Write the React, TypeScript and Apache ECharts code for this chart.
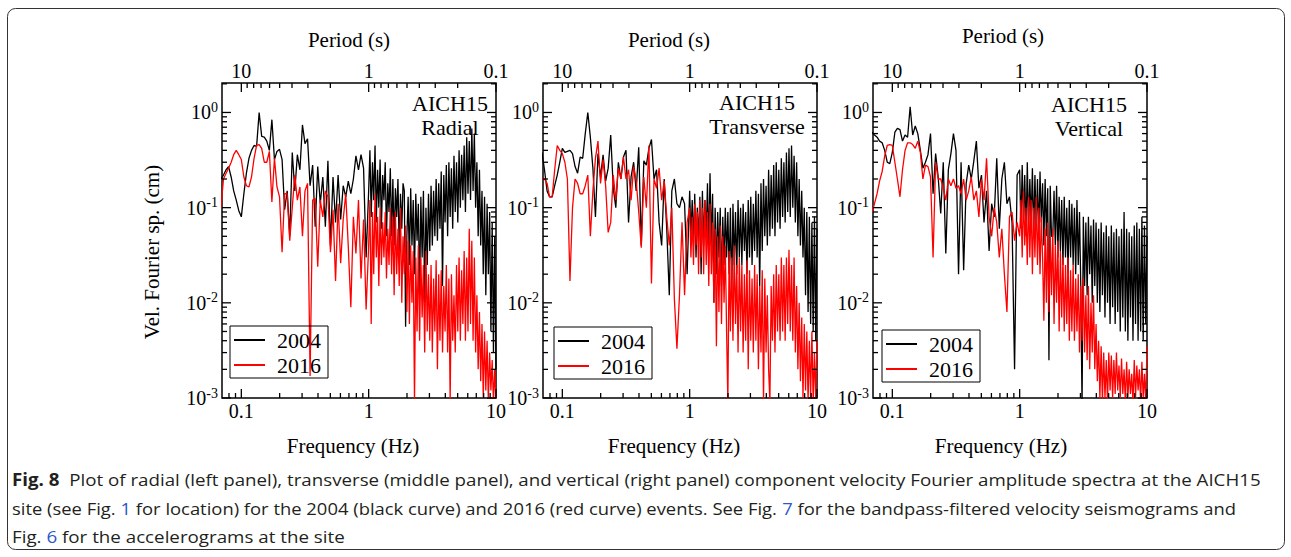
import React, { useEffect, useRef } from 'react';
import * as echarts from 'echarts';

// Shared frequency grid (Hz)
const FREQ = [
  0.0692, 0.0724, 0.0759, 0.0794, 0.0832, 0.0871, 0.0912, 0.0955, 0.1, 0.1047,
  0.1096, 0.1148, 0.1202, 0.1259, 0.1318, 0.138, 0.1445, 0.1514, 0.1585, 0.166,
  0.1738, 0.182, 0.1905, 0.1995, 0.2089, 0.2188, 0.2291, 0.2399, 0.2512, 0.263,
  0.2754, 0.2884, 0.302, 0.3162, 0.3311, 0.3467, 0.3631, 0.3802, 0.3981, 0.4169,
  0.4365, 0.4571, 0.4786, 0.5012, 0.5248, 0.5495, 0.5754, 0.6026, 0.631, 0.6607,
  0.6918, 0.7244, 0.7586, 0.7943, 0.8318, 0.871, 0.912, 0.955,
  1.0, 1.023, 1.047, 1.072, 1.096, 1.122, 1.148, 1.175, 1.202, 1.23,
  1.259, 1.288, 1.318, 1.349, 1.38, 1.413, 1.445, 1.479, 1.514, 1.549,
  1.585, 1.622, 1.66, 1.698, 1.738, 1.778, 1.82, 1.862, 1.905, 1.95,
  1.995, 2.042, 2.089, 2.138, 2.188, 2.239, 2.291, 2.344, 2.399, 2.455,
  2.512, 2.57, 2.63, 2.692, 2.754, 2.818, 2.884, 2.951, 3.02, 3.09,
  3.162, 3.236, 3.311, 3.388, 3.467, 3.548, 3.631, 3.715, 3.802, 3.89,
  3.981, 4.074, 4.169, 4.266, 4.365, 4.467, 4.571, 4.677, 4.786, 4.898,
  5.012, 5.129, 5.248, 5.37, 5.495, 5.623, 5.754, 5.888, 6.026, 6.166,
  6.31, 6.457, 6.607, 6.761, 6.918, 7.079, 7.244, 7.413, 7.586, 7.762,
  7.943, 8.128, 8.318, 8.511, 8.71, 8.913, 9.12, 9.333, 9.55, 9.772,
  10.0,
];

// Radial component (cm)
const RADIAL_2004 = [
  0.2, 0.22, 0.25, 0.27, 0.21, 0.15, 0.12, 0.093, 0.08, 0.14,
  0.23, 0.33, 0.4, 0.45, 0.44, 1.0, 0.56, 0.55, 0.5, 0.4,
  0.84, 0.32, 0.39, 0.41, 0.32, 0.095, 0.15, 0.05, 0.38, 0.15,
  0.36, 0.25, 0.74, 0.47, 0.53, 0.17, 0.28, 0.063, 0.27, 0.11,
  0.21, 0.063, 0.31, 0.04, 0.21, 0.07, 0.22, 0.075, 0.17, 0.13,
  0.19, 0.14, 0.2, 0.35, 0.25, 0.36, 0.26, 0.03,
  0.15, 0.4, 0.08, 0.3, 0.12, 0.45, 0.07, 0.25, 0.1, 0.32,
  0.06, 0.22, 0.12, 0.3, 0.05, 0.18, 0.09, 0.26, 0.05, 0.2,
  0.04, 0.16, 0.08, 0.2, 0.035, 0.14, 0.06, 0.18, 0.15, 0.0056,
  0.05, 0.13, 0.025, 0.16, 0.04, 0.12, 0.02, 0.14, 0.045, 0.11,
  0.012, 0.13, 0.03, 0.15, 0.01, 0.1, 0.025, 0.14, 0.035, 0.17,
  0.04, 0.15, 0.05, 0.2, 0.045, 0.18, 0.06, 0.24, 0.015, 0.22,
  0.07, 0.28, 0.05, 0.3, 0.08, 0.26, 0.06, 0.35, 0.09, 0.3,
  0.07, 0.4, 0.1, 0.36, 0.12, 0.45, 0.09, 0.55, 0.14, 0.5,
  0.12, 0.68, 0.15, 0.6, 0.1, 0.3, 0.05, 0.25, 0.04, 0.15,
  0.02, 0.13, 0.012, 0.11, 0.02, 0.09, 0.005, 0.07, 0.003, 0.05,
  0.002,
];
const RADIAL_2016 = [
  0.1, 0.2, 0.23, 0.26, 0.3, 0.36, 0.4, 0.36, 0.32, 0.21,
  0.17, 0.165, 0.21, 0.33, 0.45, 0.46, 0.42, 0.3, 0.3, 0.39,
  0.115, 0.33, 0.165, 0.13, 0.034, 0.14, 0.14, 0.045, 0.1, 0.22,
  0.12, 0.165, 0.05, 0.15, 0.18, 0.0017, 0.12, 0.125, 0.024, 0.12,
  0.08, 0.15, 0.13, 0.034, 0.095, 0.017, 0.11, 0.026, 0.075, 0.14,
  0.039, 0.009, 0.08, 0.033, 0.12, 0.018, 0.075, 0.0085,
  0.04, 0.12, 0.006, 0.09, 0.02, 0.14, 0.03, 0.08, 0.015, 0.1,
  0.025, 0.07, 0.03, 0.09, 0.018, 0.06, 0.025, 0.1, 0.02, 0.08,
  0.012, 0.09, 0.02, 0.06, 0.015, 0.1, 0.01, 0.05, 0.02, 0.065,
  0.008, 0.045, 0.006, 0.04, 0.01, 0.035, 0.0009, 0.03, 0.005, 0.04,
  0.004, 0.03, 0.007, 0.025, 0.003, 0.035, 0.005, 0.02, 0.004, 0.025,
  0.003, 0.018, 0.005, 0.028, 0.002, 0.02, 0.004, 0.022, 0.003, 0.015,
  0.005, 0.025, 0.003, 0.018, 0.0009, 0.02, 0.004, 0.012, 0.003, 0.025,
  0.005, 0.03, 0.004, 0.022, 0.006, 0.035, 0.004, 0.03, 0.005, 0.06,
  0.006, 0.045, 0.004, 0.03, 0.003, 0.012, 0.002, 0.008, 0.0015, 0.006,
  0.001, 0.005, 0.0012, 0.004, 0.0009, 0.003, 0.0012, 0.0025, 0.0009, 0.002,
  0.0009,
];

// Transverse component (cm)
const TRANS_2004 = [
  0.38, 0.25, 0.15, 0.13, 0.13, 0.17, 0.22, 0.3, 0.42, 0.38,
  0.39, 0.4, 0.37, 0.27, 0.23, 0.34, 0.33, 0.6, 1.0, 0.55,
  0.26, 0.08, 0.37, 0.21, 0.36, 0.19, 0.26, 0.58, 0.16, 0.1,
  0.3, 0.2, 0.34, 0.4, 0.07, 0.21, 0.3, 0.15, 0.43, 0.04,
  0.31, 0.28, 0.42, 0.52, 0.2, 0.25, 0.07, 0.04, 0.2, 0.06,
  0.012, 0.15, 0.2, 0.11, 0.1, 0.13, 0.11, 0.02,
  0.15, 0.05, 0.12, 0.04, 0.14, 0.03, 0.1, 0.045, 0.13, 0.02,
  0.15, 0.04, 0.12, 0.05, 0.18, 0.035, 0.23, 0.04, 0.14, 0.01,
  0.1, 0.02, 0.09, 0.03, 0.1, 0.015, 0.08, 0.025, 0.1, 0.03,
  0.09, 0.02, 0.1, 0.012, 0.11, 0.025, 0.09, 0.02, 0.12, 0.03,
  0.1, 0.025, 0.11, 0.035, 0.09, 0.02, 0.12, 0.03, 0.13, 0.025,
  0.11, 0.035, 0.15, 0.03, 0.14, 0.015, 0.18, 0.035, 0.2, 0.05,
  0.17, 0.04, 0.25, 0.05, 0.22, 0.06, 0.28, 0.05, 0.3, 0.07,
  0.25, 0.06, 0.33, 0.08, 0.3, 0.07, 0.38, 0.09, 0.42, 0.08,
  0.45, 0.1, 0.35, 0.07, 0.3, 0.05, 0.2, 0.04, 0.15, 0.03,
  0.1, 0.012, 0.09, 0.008, 0.08, 0.006, 0.07, 0.005, 0.08, 0.004,
  0.06,
];
const TRANS_2016 = [
  0.2, 0.2, 0.18, 0.13, 0.13, 0.25, 0.45, 0.4, 0.37, 0.3,
  0.2, 0.017, 0.1, 0.2, 0.18, 0.14, 0.14, 0.17, 0.22, 0.05,
  0.15, 0.33, 0.5, 0.18, 0.32, 0.17, 0.055, 0.07, 0.22, 0.12,
  0.26, 0.2, 0.34, 0.2, 0.25, 0.12, 0.27, 0.19, 0.09, 0.038,
  0.21, 0.1, 0.45, 0.016, 0.2, 0.16, 0.26, 0.12, 0.19, 0.08,
  0.04, 0.1, 0.011, 0.0033, 0.012, 0.07, 0.012, 0.07,
  0.1, 0.03, 0.08, 0.025, 0.11, 0.04, 0.09, 0.02, 0.12, 0.03,
  0.1, 0.02, 0.12, 0.025, 0.09, 0.015, 0.11, 0.02, 0.07, 0.01,
  0.06, 0.0035, 0.05, 0.008, 0.065, 0.006, 0.05, 0.01, 0.04, 0.005,
  0.0009, 0.035, 0.005, 0.03, 0.004, 0.04, 0.006, 0.025, 0.003, 0.03,
  0.005, 0.025, 0.003, 0.02, 0.004, 0.028, 0.002, 0.022, 0.004, 0.018,
  0.003, 0.025, 0.004, 0.02, 0.002, 0.015, 0.003, 0.022, 0.0009, 0.018,
  0.003, 0.012, 0.002, 0.0009, 0.015, 0.004, 0.02, 0.003, 0.025, 0.005,
  0.02, 0.004, 0.03, 0.005, 0.025, 0.004, 0.03, 0.006, 0.036, 0.005,
  0.025, 0.004, 0.03, 0.003, 0.015, 0.002, 0.01, 0.0015, 0.007, 0.001,
  0.006, 0.0012, 0.005, 0.0009, 0.004, 0.001, 0.005, 0.0009, 0.003, 0.001,
  0.004,
];

// Vertical component (cm)
const VERT_2004 = [
  0.62, 0.58, 0.55, 0.5, 0.48, 0.4, 0.3, 0.29, 0.38, 0.62,
  0.68, 0.66, 0.5, 0.58, 0.55, 1.15, 0.58, 0.72, 0.6, 0.4,
  0.26, 0.3, 0.36, 0.6, 0.14, 0.37, 0.21, 0.087, 0.3, 0.033,
  0.25, 0.37, 0.6, 0.4, 0.02, 0.3, 0.022, 0.18, 0.28, 0.2,
  0.31, 0.5, 0.16, 0.22, 0.07, 0.15, 0.035, 0.11, 0.08, 0.33,
  0.06, 0.2, 0.3, 0.11, 0.13, 0.07, 0.002, 0.22,
  0.25, 0.06, 0.28, 0.07, 0.22, 0.05, 0.3, 0.06, 0.2, 0.07,
  0.26, 0.05, 0.22, 0.06, 0.2, 0.05, 0.24, 0.07, 0.18, 0.04,
  0.2, 0.05, 0.16, 0.0025, 0.17, 0.05, 0.05, 0.15, 0.04, 0.17,
  0.03, 0.13, 0.035, 0.12, 0.025, 0.13, 0.03, 0.1, 0.02, 0.12,
  0.03, 0.11, 0.025, 0.1, 0.02, 0.12, 0.025, 0.09, 0.015, 0.0008,
  0.08, 0.015, 0.07, 0.012, 0.08, 0.02, 0.065, 0.01, 0.075, 0.015,
  0.07, 0.01, 0.06, 0.008, 0.07, 0.012, 0.055, 0.007, 0.065, 0.01,
  0.05, 0.006, 0.065, 0.009, 0.055, 0.006, 0.06, 0.008, 0.05, 0.005,
  0.06, 0.007, 0.09, 0.005, 0.06, 0.004, 0.055, 0.007, 0.05, 0.004,
  0.065, 0.006, 0.07, 0.004, 0.06, 0.005, 0.08, 0.004, 0.065, 0.006,
  0.05,
];
const VERT_2016 = [
  0.09, 0.11, 0.14, 0.19, 0.24, 0.35, 0.45, 0.46, 0.45, 0.3,
  0.2, 0.13, 0.25, 0.4, 0.48, 0.48, 0.46, 0.42, 0.5, 0.38,
  0.2, 0.28, 0.27, 0.21, 0.03, 0.3, 0.2, 0.2, 0.16, 0.12,
  0.2, 0.17, 0.2, 0.16, 0.17, 0.14, 0.2, 0.12, 0.15, 0.21,
  0.12, 0.15, 0.08, 0.2, 0.12, 0.33, 0.08, 0.05, 0.1, 0.07,
  0.03, 0.06, 0.02, 0.008, 0.08, 0.09, 0.045, 0.07,
  0.05, 0.12, 0.03, 0.15, 0.04, 0.1, 0.025, 0.13, 0.03, 0.12,
  0.02, 0.1, 0.03, 0.13, 0.025, 0.1, 0.02, 0.08, 0.03, 0.0065,
  0.06, 0.01, 0.07, 0.008, 0.05, 0.012, 0.06, 0.006, 0.04, 0.01,
  0.045, 0.005, 0.035, 0.007, 0.03, 0.005, 0.025, 0.006, 0.03, 0.004,
  0.022, 0.005, 0.025, 0.004, 0.018, 0.005, 0.02, 0.003, 0.015, 0.004,
  0.018, 0.003, 0.012, 0.0025, 0.015, 0.002, 0.01, 0.003, 0.012, 0.002,
  0.006, 0.0015, 0.004, 0.001, 0.0035, 0.0009, 0.003, 0.001, 0.0025, 0.0009,
  0.003, 0.0012, 0.0028, 0.001, 0.0025, 0.0011, 0.003, 0.0012, 0.0022, 0.001,
  0.0026, 0.0011, 0.002, 0.0009, 0.0024, 0.001, 0.002, 0.0011, 0.0018, 0.0009,
  0.0025, 0.001, 0.0022, 0.0012, 0.002, 0.0009, 0.0024, 0.001, 0.0018, 0.0009,
  0.0035,
];

// Axis tick values
const Y_MAJOR = [0.001, 0.01, 0.1, 1];
const Y_MINOR = [
  0.002, 0.003, 0.004, 0.005, 0.006, 0.007, 0.008, 0.009,
  0.02, 0.03, 0.04, 0.05, 0.06, 0.07, 0.08, 0.09,
  0.2, 0.3, 0.4, 0.5, 0.6, 0.7, 0.8, 0.9, 2,
];
const X_MAJOR = [0.1, 1, 10];
const X_MINOR = [0.08, 0.09, 0.2, 0.3, 0.4, 0.5, 0.6, 0.7, 0.8, 0.9, 2, 3, 4, 5, 6, 7, 8, 9];
const PERIOD_MAJOR = [10, 1, 0.1];
const PERIOD_MINOR = [9, 8, 7, 6, 5, 4, 3, 2, 0.9, 0.8, 0.7, 0.6, 0.5, 0.4, 0.3, 0.2];

const SERIES_NAMES = ['2004', '2016'];
const COMPONENTS = ['Radial', 'Transverse', 'Vertical'];
const STATION = 'AICH15';

const CAPTION_1 = ['Fig. 8', '  Plot of radial (left panel), transverse (middle panel), and vertical (right panel) component velocity Fourier amplitude spectra at the AICH15'];
const CAPTION_2 = ['site (see Fig. ', '1', ' for location) for the 2004 (black curve) and 2016 (red curve) events. See Fig. ', '7', ' for the bandpass-filtered velocity seismograms and'];
const CAPTION_3 = ['Fig. ', '6', ' for the accelerograms at the site'];

const X_MIN = 0.0705;
const X_MAX = 10;
const Y_MIN = 0.001;
const Y_MAX = 2.04;

const SERIF = '"Liberation Serif", "Times New Roman", serif';
const SANS = '"Open Sans", "Noto Sans", sans-serif';

function fmt(v: number) {
  return String(Number(v.toPrecision(3)));
}

export default function App() {
  const ref = useRef<HTMLDivElement>(null);
  useEffect(() => {
    const chart = echarts.init(ref.current as HTMLDivElement, undefined, { renderer: 'svg' });

    const panels = [
      { left: 222, b: RADIAL_2004, r: RADIAL_2016, leg: [230, 326], ann: [450, 115.5] },
      { left: 543, b: TRANS_2004, r: TRANS_2016, leg: [554, 327], ann: [757, 114.5] },
      { left: 873, b: VERT_2004, r: VERT_2016, leg: [882, 330], ann: [1089, 116] },
    ];

    const tickData = [
      ...Y_MAJOR.map((v) => [X_MIN, v, 0]),
      ...Y_MINOR.map((v) => [X_MIN, v, 1]),
      ...X_MAJOR.map((f) => [f, Y_MIN, 2]),
      ...X_MINOR.map((f) => [f, Y_MIN, 3]),
      ...PERIOD_MAJOR.map((p) => [1 / p, Y_MIN, 4]),
      ...PERIOD_MINOR.map((p) => [1 / p, Y_MIN, 5]),
    ];

    const tickStyle = { stroke: '#000', lineWidth: 1.3 };
    const renderTick = (params: any, api: any) => {
      const cs = params.coordSys;
      const kind = api.value(2);
      if (kind === 0 || kind === 1) {
        const y = api.coord([X_MIN, api.value(1)])[1];
        const L = kind === 0 ? 9 : 5;
        return {
          type: 'group',
          children: [
            { type: 'line', shape: { x1: cs.x, y1: y, x2: cs.x + L, y2: y }, style: tickStyle },
            { type: 'line', shape: { x1: cs.x + cs.width, y1: y, x2: cs.x + cs.width - L, y2: y }, style: tickStyle },
          ],
        };
      }
      const x = api.coord([api.value(0), Y_MIN])[0];
      if (kind === 2 || kind === 3) {
        const L = kind === 2 ? 9 : 5;
        const b = cs.y + cs.height;
        return { type: 'line', shape: { x1: x, y1: b, x2: x, y2: b - L }, style: tickStyle };
      }
      const L = kind === 4 ? 9 : 5;
      return { type: 'line', shape: { x1: x, y1: cs.y, x2: x, y2: cs.y + L }, style: tickStyle };
    };

    const labelText = { fontFamily: SERIF, fontSize: 20, color: '#000' };

    const grid = panels.map((p) => ({
      left: p.left, top: 83, width: 274, height: 315,
      show: true, borderColor: '#000', borderWidth: 1.5, backgroundColor: 'rgba(0,0,0,0)',
    }));

    const xAxis: any[] = [];
    panels.forEach((_, i) => {
      xAxis.push({
        type: 'log', gridIndex: i, position: 'bottom', min: X_MIN, max: X_MAX,
        axisLine: { show: false }, axisTick: { show: false }, splitLine: { show: false },
        axisLabel: { ...labelText, margin: 3, showMinLabel: false, formatter: (v: number) => fmt(v) },
      });
      xAxis.push({
        type: 'log', gridIndex: i, position: 'top', min: X_MIN, max: X_MAX,
        axisLine: { show: false }, axisTick: { show: false }, splitLine: { show: false },
        axisLabel: { ...labelText, margin: 2, showMinLabel: false, formatter: (v: number) => fmt(1 / v) },
      });
    });

    const yAxis = panels.map((_, i) => ({
      type: 'log', gridIndex: i, min: Y_MIN, max: Y_MAX,
      axisLine: { show: false }, axisTick: { show: false }, splitLine: { show: false },
      axisLabel: {
        margin: 4, showMaxLabel: false,
        formatter: (v: number) => {
          const e = Math.round(Math.log10(v));
          if (Math.abs(Math.log10(v) - e) > 0.01) return '';
          return `{b|10}{s|${e}}`;
        },
        rich: {
          b: { fontFamily: SERIF, fontSize: 20, color: '#000', lineHeight: 24 },
          s: { fontFamily: SERIF, fontSize: 14, color: '#000', lineHeight: 14, verticalAlign: 'top' },
        },
      },
    }));

    const series: any[] = [];
    panels.forEach((p, i) => {
      [p.b, p.r].forEach((arr, k) => {
        series.push({
          type: 'line', name: SERIES_NAMES[k], xAxisIndex: 2 * i, yAxisIndex: i,
          data: FREQ.map((f, j) => [f, arr[j]]),
          symbol: 'none', silent: true, emphasis: { disabled: true },
          lineStyle: { color: k === 0 ? '#000' : '#ff0000', width: 1.3 },
          itemStyle: { color: k === 0 ? '#000' : '#ff0000' },
          z: 2 + k,
        });
      });
      series.push({
        type: 'custom', name: 'ticks', xAxisIndex: 2 * i, yAxisIndex: i,
        data: tickData, renderItem: renderTick, encode: { x: 0, y: 1 },
        clip: false, silent: true, z: 6,
      });
    });

    const legend = panels.map((p) => ({
      data: SERIES_NAMES, orient: 'vertical', left: p.leg[0], top: p.leg[1],
      icon: 'rect', padding: [3, 7, 2, 4], itemGap: 3, itemWidth: 31, itemHeight: 2,
      borderColor: '#000', borderWidth: 1, borderRadius: 0, selectedMode: false,
      textStyle: { fontFamily: SERIF, fontSize: 22, color: '#000', padding: [0, 0, 0, 7] },
    }));

    // caption: fit each line to its width in the reference
    const ctx = document.createElement('canvas').getContext('2d') as CanvasRenderingContext2D;
    const measure = (parts: string[], boldFirst: boolean) => {
      let w = 0;
      parts.forEach((s, i) => {
        ctx.font = (boldFirst && i === 0 ? 'bold ' : '') + `17px ${SANS}`;
        w += ctx.measureText(s).width;
      });
      return w;
    };
    const sx1 = 1250 / measure(CAPTION_1, true);
    const sx2 = 1224 / measure(CAPTION_2, false);
    const sx3 = 333 / measure(CAPTION_3, false);

    const capRich = {
      b: { font: `bold 17px ${SANS}`, fill: '#231f20' },
      n: { font: `17px ${SANS}`, fill: '#231f20' },
      l: { font: `17px ${SANS}`, fill: '#2b57c8' },
    };
    const capText = (y: number, sx: number, text: string) => ({
      type: 'text', x: 12, y, scaleX: sx,
      style: { text, rich: capRich, font: `17px ${SANS}`, fill: '#231f20', verticalAlign: 'middle', textVerticalAlign: 'middle' },
    });
    const txt = (x: number, y: number, text: string, size: number, rot = 0, lh = 0) => ({
      type: 'text', x, y, rotation: rot,
      style: {
        text, font: `${size}px ${SERIF}`, fill: '#000', lineHeight: lh || undefined,
        align: 'center', verticalAlign: 'middle', textAlign: 'center', textVerticalAlign: 'middle',
      },
    });

    const graphic = [
      { type: 'rect', shape: { x: 7.5, y: 8.5, width: 1277, height: 541, r: 8 }, style: { fill: 'none', stroke: '#333', lineWidth: 1 } },
      txt(349, 40, 'Period (s)', 21),
      txt(669, 40, 'Period (s)', 21),
      txt(1003, 36, 'Period (s)', 21),
      txt(353, 446, 'Frequency (Hz)', 21),
      txt(674, 446, 'Frequency (Hz)', 21),
      txt(1001, 446, 'Frequency (Hz)', 21),
      txt(152, 252, 'Vel. Fourier sp. (cm)', 21, Math.PI / 2),
      ...panels.map((p, i) => txt(p.ann[0], p.ann[1], `${STATION}\n${COMPONENTS[i]}`, 22, 0, 24)),
      capText(479, sx1, `{b|${CAPTION_1[0]}}{n|${CAPTION_1[1]}}`),
      capText(508, sx2, `{n|${CAPTION_2[0]}}{l|${CAPTION_2[1]}}{n|${CAPTION_2[2]}}{l|${CAPTION_2[3]}}{n|${CAPTION_2[4]}}`),
      capText(536, sx3, `{n|${CAPTION_3[0]}}{l|${CAPTION_3[1]}}{n|${CAPTION_3[2]}}`),
    ];

    chart.setOption({
      animation: false,
      backgroundColor: '#fff',
      grid, xAxis, yAxis, series, legend, graphic,
    });
    return () => chart.dispose();
  }, []);
  return <div ref={ref} style={{ position: 'absolute', left: 0, top: 0, width: 1291, height: 557, background: '#fff' }} />;
}
